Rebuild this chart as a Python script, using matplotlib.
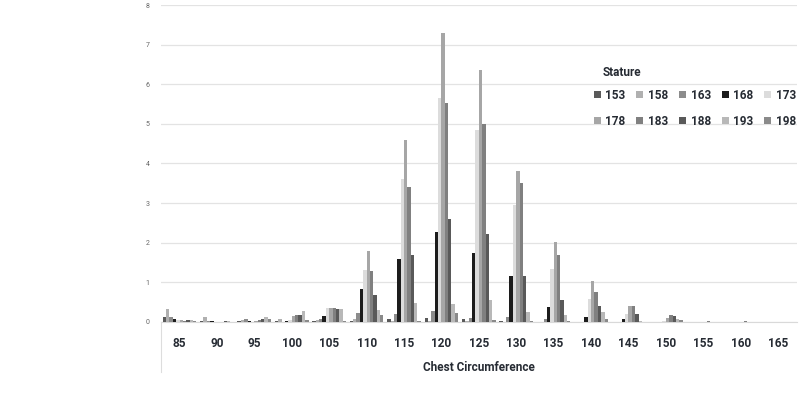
import numpy as np
import matplotlib
matplotlib.use("Agg")
import matplotlib.pyplot as plt
from matplotlib.lines import Line2D
from matplotlib.patches import Patch

plt.rcParams['font.family'] = ['Roboto', 'DejaVu Sans']

chest = [85, 90, 95, 100, 105, 110, 115, 120, 125, 130, 135, 140, 145, 150, 155, 160, 165]
stature = ['153', '158', '163', '168', '173', '178', '183', '188', '193', '198']

s153 = [0.13, 0.02, 0.03, 0.02, 0.03, 0.03, 0.08, 0.10, 0.07, 0.03, 0, 0, 0, 0, 0, 0, 0]
s158 = [0.33, 0.12, 0.05, 0.08, 0.05, 0.08, 0.02, 0.03, 0.02, 0, 0, 0, 0, 0, 0, 0, 0]
s163 = [0.13, 0.02, 0.08, 0, 0.08, 0.22, 0.19, 0.27, 0.10, 0.12, 0.06, 0, 0, 0, 0, 0, 0]
s168 = [0.08, 0.03, 0.02, 0.01, 0.16, 0.82, 1.59, 2.27, 1.75, 1.15, 0.37, 0.12, 0.07, 0, 0, 0, 0]
s173 = [0.05, 0, 0, 0.05, 0.36, 1.31, 3.60, 5.65, 4.85, 2.95, 1.33, 0.58, 0.20, 0.02, 0, 0, 0]
s178 = [0.04, 0, 0.02, 0.14, 0.36, 1.78, 4.60, 7.30, 6.35, 3.82, 2.02, 1.02, 0.41, 0.10, 0, 0, 0]
s183 = [0.02, 0, 0.05, 0.18, 0.36, 1.29, 3.41, 5.52, 5.00, 3.50, 1.68, 0.76, 0.39, 0.17, 0.03, 0.03, 0]
s188 = [0.04, 0.03, 0.08, 0.18, 0.33, 0.67, 1.70, 2.60, 2.23, 1.17, 0.55, 0.41, 0.20, 0.14, 0, 0, 0]
s193 = [0.05, 0.01, 0.12, 0.27, 0.33, 0.30, 0.47, 0.45, 0.55, 0.25, 0.18, 0.24, 0.02, 0.08, 0, 0, 0]
s198 = [0.02, 0, 0.06, 0.05, 0.03, 0.17, 0.02, 0.23, 0.05, 0.03, 0.02, 0.06, 0, 0.05, 0, 0, 0]
series = [s153, s158, s163, s168, s173, s178, s183, s188, s193, s198]

colors = ['#5a5a5a', '#b0b0b0', '#8c8c8c', '#1c1c1c', '#dcdcdc',
          '#a6a6a6', '#808080', '#595959', '#b8b8b8', '#8a8a8a']

fig = plt.figure(figsize=(8, 3.93), dpi=100)
ax = fig.add_axes([0.201, 0.181, 0.795, 0.806])

x = np.arange(len(chest))
w = 0.09
for i, (vals, c) in enumerate(zip(series, colors)):
    ax.bar(x + (i - 4.5) * w, vals, width=w, color=c, zorder=3)

ax.set_xlim(-0.5, len(chest) - 0.5)
ax.set_ylim(0, 8)
ax.set_yticks(range(0, 9))
ax.yaxis.grid(True, color='#e3e3e3', lw=0.9, zorder=0)
for s in ['top', 'right', 'left']:
    ax.spines[s].set_visible(False)
ax.spines['bottom'].set_color('#d9d9d9')
ax.tick_params(axis='y', length=0, labelsize=5, labelcolor='#666666', pad=8)
ax.tick_params(axis='x', length=0, pad=11)
ax.set_xticks(x)
ax.set_xticklabels([str(c) for c in chest], fontsize=8.5, fontweight='bold', color='#262b33')
ax.set_xlabel('Chest Circumference', fontsize=8.5, fontweight='bold', color='#262b33', labelpad=8)

# separator line below category axis
fig.add_artist(Line2D([0.201, 0.201], [1 - 322 / 393, 1 - 372 / 393], color='#dddddd', lw=0.8))

# legend filled row by row (matplotlib fills by column)
order = [0, 5, 1, 6, 2, 7, 3, 8, 4, 9]
handles = [Patch(facecolor=colors[k], label=stature[k]) for k in order]
fig.text(0.753, 1 - 73 / 393, 'Stature', fontsize=8.5, fontweight='bold', color='#262b33', va='center')
leg = fig.legend(handles=handles, ncol=5, loc='upper left', bbox_to_anchor=(0.736, 1 - 84 / 393),
                 frameon=False, fontsize=8.5, handlelength=0.6, handleheight=0.6,
                 handletextpad=0.4, columnspacing=0.9, labelspacing=1.1, borderaxespad=0)
for t in leg.get_texts():
    t.set_fontweight('bold')
    t.set_color('#262b33')

fig.savefig('out.png', dpi=100)
